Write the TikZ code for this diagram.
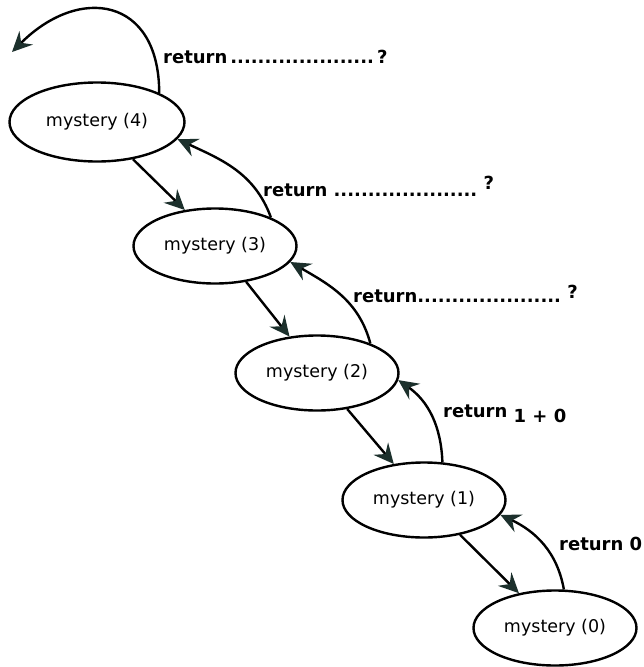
\documentclass[tikz,border=0pt]{standalone}
\usepackage{fontspec}
\setmainfont{DejaVu Sans}
\usetikzlibrary{shapes.geometric,arrows.meta}
\definecolor{tipcol}{RGB}{28,48,44}

\begin{document}
\begin{tikzpicture}[x=1pt,y=1pt,
    callnode/.style={draw=black,ellipse,line width=2.4pt,minimum width=163pt,minimum height=75pt,inner sep=0pt,font=\fontsize{17.5}{20}\selectfont},
    retlabel/.style={anchor=base west,inner sep=0pt,font=\fontsize{18}{20}\selectfont\bfseries},
    callarrow/.style={line width=2.4pt,-{Stealth[length=20pt,width=19pt,inset=7pt,color=tipcol]}}]
        \useasboundingbox (0,0) rectangle (644,-667);
        % Draw the calls
        \node[callnode,minimum width=175pt,minimum height=79pt] (m4) at (97,-122) {mystery (4)};
        \node[callnode] (m3) at (215,-246) {mystery (3)};
        \node[callnode] (m2) at (317,-373) {mystery (2)};
        \node[callnode] (m1) at (424,-500) {mystery (1)};
        \node[callnode] (m0) at (555,-628) {mystery (0)};
        % calls going down
        \draw[callarrow] (m4.-46) -- (m3.130);
        \draw[callarrow] (m3.-49) -- (m2.127);
        \draw[callarrow] (m2.-50) -- (m1.130);
        \draw[callarrow] (m1.-44) -- (m0.136);
        % returns going up
        \draw[callarrow] (m3.27) to[out=110,in=-25] (m4.-12);
        \draw[callarrow] (m2.29) to[out=105,in=-30] (m3.-12);
        \draw[callarrow] (m1.64) to[out=92,in=-35] (m2.-5);
        \draw[callarrow] (m0.77) to[out=100,in=-25] (m1.-11);
        \coordinate (loopend) at (12,-52);
        \draw[callarrow] (m4.25) to[out=90,in=45,looseness=1.6] (loopend);
        % labels
        \node[retlabel] (ret4) at (163,-63) {return\,.....................\,?};
        \node[retlabel] (ret3) at (263,-196) {return .....................\ \raisebox{7pt}{?}};
        \node[retlabel] (ret2) at (353,-302) {return.....................\ \raisebox{4pt}{?}};
        \node[retlabel] (ret1) at (443,-417) {return \raisebox{-5pt}{1 + 0}};
        \node[retlabel] (ret0) at (559,-550) {return 0};
      \end{tikzpicture}
\end{document}
